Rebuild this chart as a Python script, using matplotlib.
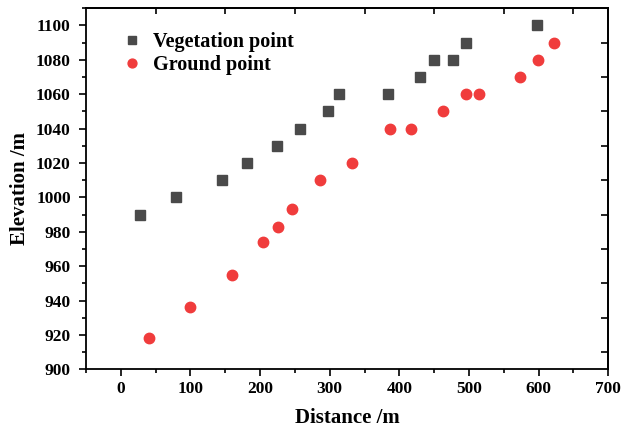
import matplotlib
matplotlib.use("Agg")
import matplotlib.pyplot as plt
from matplotlib.ticker import MultipleLocator

plt.rcParams['font.family'] = ['Liberation Serif', 'DejaVu Serif']
plt.rcParams['font.weight'] = 'bold'

veg_x = [27, 79, 145, 181, 224, 258, 298, 314, 384, 429, 450, 477, 495, 598]
veg_y = [990, 1000, 1010, 1020, 1030, 1040, 1050, 1060, 1060, 1070, 1080, 1080, 1090, 1100]
gnd_x = [41, 99, 160, 204, 225, 246, 286, 332, 387, 416, 463, 495, 515, 573, 599, 622]
gnd_y = [918, 936, 955, 974, 983, 993, 1010, 1020, 1040, 1040, 1050, 1060, 1060, 1070, 1080, 1090]

fig = plt.figure(figsize=(6.31, 4.28), dpi=100)
ax = fig.add_axes([0.1363, 0.137, 0.964 - 0.1363, 0.981 - 0.137])

ax.plot(veg_x, veg_y, linestyle='none', marker='s', markersize=7,
        color='#4a4a4a', label='Vegetation point')
ax.plot(gnd_x, gnd_y, linestyle='none', marker='o', markersize=7.5,
        color='#f03c3c', label='Ground point')

ax.set_xlim(-50, 700)
ax.set_ylim(900, 1110)
ax.xaxis.set_minor_locator(MultipleLocator(50))
ax.yaxis.set_minor_locator(MultipleLocator(10))
ax.set_yticks(list(range(900, 1101, 20)))
ax.set_xticks(list(range(0, 701, 100)))

ax.tick_params(axis='both', which='both', direction='out', width=1.2,
               labelsize=12.5, top=False, right=False)
ax.tick_params(axis='both', which='major', length=5)
ax.tick_params(axis='both', which='minor', length=3)
ax.tick_params(axis='y', which='major', pad=6)
for lab in ax.get_xticklabels() + ax.get_yticklabels():
    lab.set_fontweight('bold')

# top / right inner ticks
axt = ax.secondary_xaxis('top')
axt.set_xticks([50, 150, 250, 350, 450, 550, 650])
axt.tick_params(direction='in', length=4, width=1.2, labeltop=False)
axr = ax.secondary_yaxis('right')
axr.set_yticks([910, 930, 950, 970, 990, 1010, 1030, 1050, 1070, 1090])
axr.tick_params(direction='in', length=5, width=1.2, labelright=False)
axt.spines['top'].set_linewidth(1.3)
axr.spines['right'].set_linewidth(1.3)

for s in ax.spines.values():
    s.set_linewidth(1.3)

ax.set_xlabel('Distance /m', fontsize=15, fontweight='bold', labelpad=8)
ax.set_ylabel('Elevation /m', fontsize=15, fontweight='bold', labelpad=4)

leg = ax.legend(loc='upper left', frameon=False, fontsize=14.5,
                bbox_to_anchor=(0.035, 0.985), handletextpad=0.5,
                labelspacing=0.15, handlelength=1.0, markerscale=0.85)
for t in leg.get_texts():
    t.set_fontweight('bold')

fig.savefig('out.png', dpi=100)
